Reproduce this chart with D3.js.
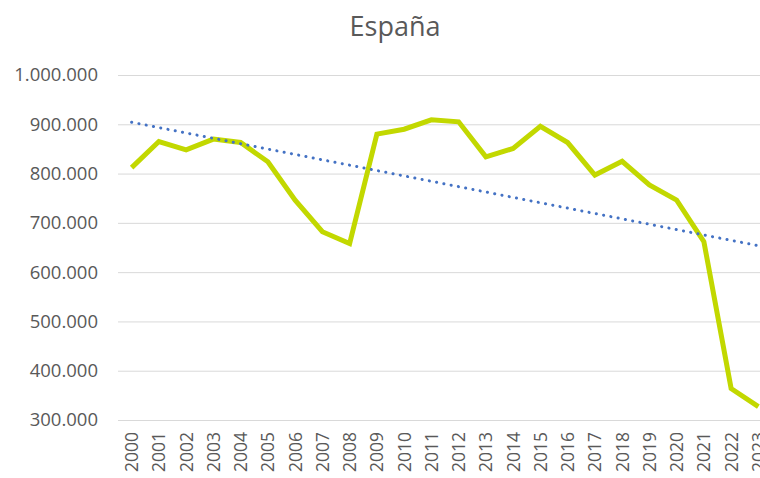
<!DOCTYPE html>
<html>
<head>
<meta charset="utf-8">
<script src="https://cdn.jsdelivr.net/npm/d3@7"></script>
<style>
  body { margin: 0; background: #fff; }
  text { font-family: "Open Sans", sans-serif; fill: #595959; }
</style>
</head>
<body>
<svg id="chart" width="760" height="478"></svg>
<script>
var years = ['2000','2001','2002','2003','2004','2005','2006','2007','2008','2009','2010','2011',
             '2012','2013','2014','2015','2016','2017','2018','2019','2020','2021','2022','2023'];
var values = [812000, 865000, 848000, 870000, 863000, 824000, 746000, 682000, 658000, 880000, 890000, 909000,
              905000, 834000, 851000, 896000, 863000, 797000, 825000, 777000, 746000, 662000, 364000, 327000];
var yTicks = [300000, 400000, 500000, 600000, 700000, 800000, 900000, 1000000];
var title = 'España';

function draw(){
  var svg = d3.select('#chart');
  var plotLeft = 118, plotRight = 772, plotTop = 75, plotBottom = 420;

  var x = d3.scaleBand().domain(years).range([plotLeft, plotRight]);
  var y = d3.scaleLinear().domain([300000, 1000000]).range([plotBottom, plotTop]);
  var fmt = function(v){ return d3.format(',')(v).replace(/,/g, '.'); };
  var cx = function(d){ return x(d) + x.bandwidth()/2; };

  // title
  svg.append('text')
    .attr('x', 395).attr('y', 36)
    .attr('text-anchor', 'middle')
    .attr('font-size', '27px')
    .text(title);

  // grid + y labels
  var yAxis = d3.axisLeft(y).tickValues(yTicks).tickSize(-(760 - plotLeft)).tickPadding(20).tickFormat(fmt);
  var gy = svg.append('g').attr('transform', 'translate(' + plotLeft + ',0)').call(yAxis);
  gy.select('.domain').remove();
  gy.selectAll('.tick line').attr('stroke', '#d9d9d9').attr('stroke-width', 1);
  gy.selectAll('.tick text').attr('font-size', '18.5px').attr('fill', '#595959')
    .style('font-family', '"Open Sans", sans-serif');

  // x labels (rotated)
  svg.append('g').selectAll('text')
    .data(years)
    .enter().append('text')
    .attr('font-size', '17.5px')
    .attr('text-anchor', 'end')
    .attr('transform', function(d){
      return 'translate(' + (cx(d) + 6.5) + ',432) rotate(-90)';
    })
    .text(function(d){ return d; });

  // main line
  var line = d3.line()
    .x(function(d, i){ return cx(years[i]); })
    .y(function(d){ return y(d); });

  svg.append('path')
    .datum(values)
    .attr('fill', 'none')
    .attr('stroke', '#c2d800')
    .attr('stroke-width', 5)
    .attr('d', line);

  // linear trend (least squares over index)
  var n = values.length;
  var mx = d3.mean(values, function(d, i){ return i; });
  var my = d3.mean(values);
  var sxy = d3.sum(values, function(d, i){ return (i - mx) * (d - my); });
  var sxx = d3.sum(values, function(d, i){ return (i - mx) * (i - mx); });
  var slope = sxy / sxx, icpt = my - slope * mx;
  var trend = [0, n - 1].map(function(i){ return [cx(years[i]), y(icpt + slope * i)]; });

  svg.append('path')
    .attr('fill', 'none')
    .attr('stroke', '#4472c4')
    .attr('stroke-width', 3)
    .attr('stroke-linecap', 'round')
    .attr('stroke-dasharray', '0.1 7.3')
    .attr('d', d3.line()(trend));
}
draw();
</script>
</body>
</html>
